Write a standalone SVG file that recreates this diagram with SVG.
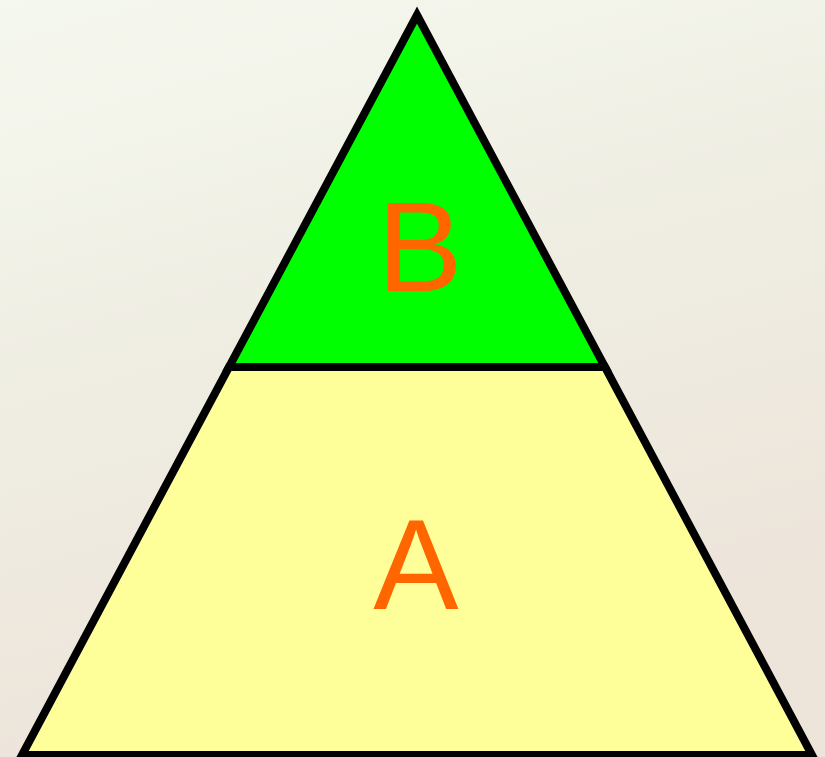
<svg xmlns="http://www.w3.org/2000/svg" width="825" height="757" viewBox="0 0 825 757">
<defs>
<linearGradient id="bg" x1="0" y1="0" x2="0.3" y2="1">
<stop offset="0" stop-color="#F5F8EF"/>
<stop offset="0.5" stop-color="#EFEDE2"/>
<stop offset="1" stop-color="#EDE4DA"/>
</linearGradient>
</defs>
<style>
.sh{stroke:#000;stroke-width:8;stroke-linejoin:miter;stroke-miterlimit:20}
.lbl{font-family:"Liberation Sans",Arial,sans-serif;font-size:128px;fill:#FF6600;text-anchor:middle}
</style>
<rect width="825" height="757" fill="url(#bg)"/>
<g id="A">
<polygon class="sh" points="229,367 605,367 812,755 22,755" fill="#FFFF99"/>
<text class="lbl" x="416" y="609">A</text>
</g>
<g id="B">
<polygon class="sh" points="417,15 605,367 229,367" fill="#00FF00"/>
<text class="lbl" x="420" y="291">B</text>
</g>
<g id="connectors"/>
</svg>
